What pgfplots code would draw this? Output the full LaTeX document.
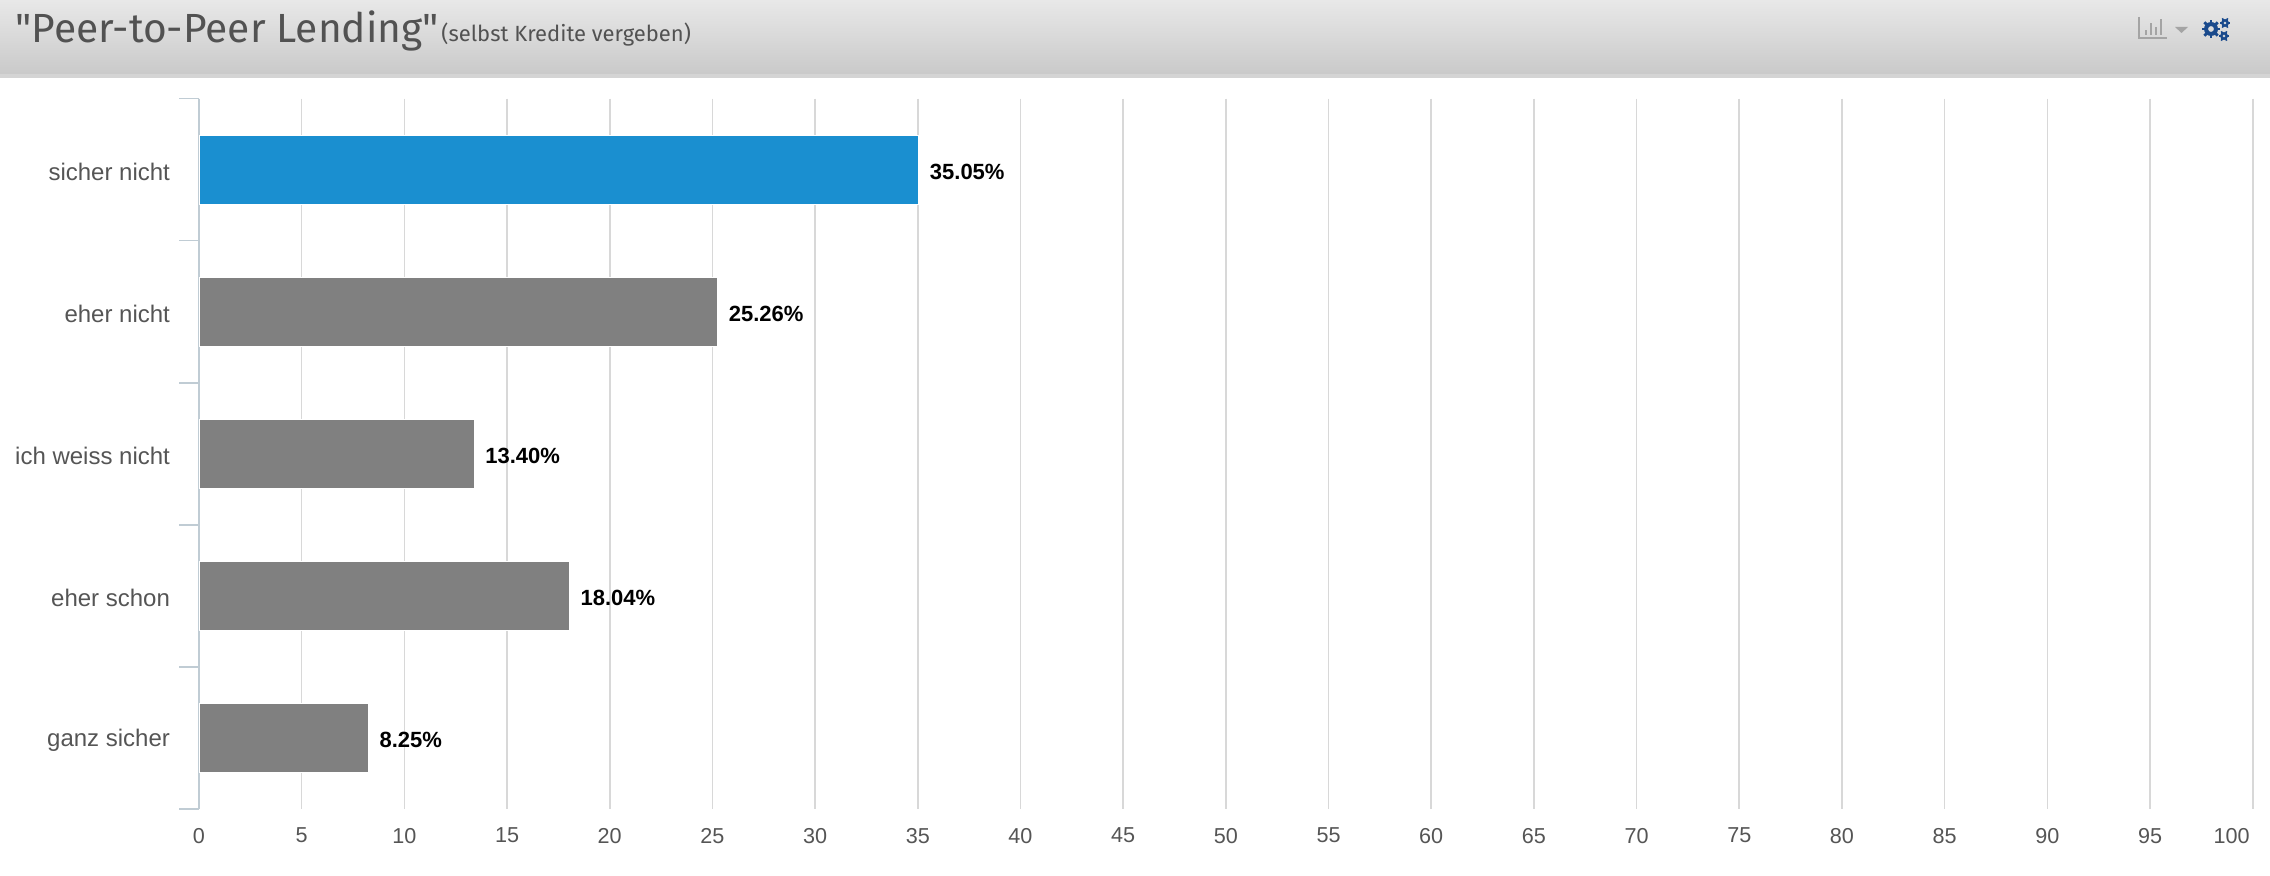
\documentclass[border=0pt]{standalone}
\usepackage{pgfplots}
\pgfplotsset{compat=1.18}
\usepackage{fontspec}
\setmainfont{Liberation Sans}
\newfontfamily\titlefont{Fira Sans}
\definecolor{barblue}{HTML}{1A8FD0}
\definecolor{bargray}{HTML}{808080}
\definecolor{labgray}{HTML}{555555}
\definecolor{gridgray}{HTML}{D8D8D8}
\definecolor{axisline}{HTML}{C0CCD4}
\definecolor{iconblue}{HTML}{1A4A8C}
\definecolor{icongray}{HTML}{A4A4A4}
% gear icon: centre x, centre y, outer radius, hole radius, teeth
\newcommand{\gear}[5]{%
  \fill[iconblue,even odd rule] (#1,#2) circle[radius=#3] (#1,#2) circle[radius=#4];
  \pgfmathsetmacro{\gstep}{360/#5}
  \foreach \ga in {1,...,#5}
    \draw[iconblue,line width=#3*0.2pt] ({#1+#3*0.85*cos(\ga*\gstep)},{#2+#3*0.85*sin(\ga*\gstep)})
      -- ({#1+#3*1.35*cos(\ga*\gstep)},{#2+#3*1.35*sin(\ga*\gstep)});
}
\begin{document}
\begin{tikzpicture}
  \path[use as bounding box] (0,0) rectangle (1135pt,-438pt);
  % header band, coordinates in reference pixels
  \begin{scope}[x=0.5pt,y=-0.5pt]
    \shade[top color=black!9,bottom color=black!21,draw=none] (0,0) rectangle (2270,74);
    \fill[black!17] (0,74) rectangle (2270,78);
    \node[anchor=base west,inner sep=0pt,text=black!68] at (15,43)
      {\titlefont\fontsize{20.35}{24}\selectfont "Peer-to-Peer Lending"};
    \node[anchor=base west,inner sep=0pt,text=black!68] at (441,42)
      {\titlefont\fontsize{11}{13}\selectfont (selbst Kredite vergeben)};
    % chart icon
    \draw[icongray,line width=0.8pt] (2139,17) -- (2139,38) -- (2167,38);
    \foreach \ix/\itop in {2146/30,2151/23,2156/27,2161/19}
      \draw[icongray,line width=1.4pt] (\ix,35) -- (\ix,\itop);
    \fill[icongray] (2175,27) -- (2188,27) -- (2181.5,33) -- cycle;
    % gears
    \gear{2211}{29}{7}{3}{8}
    \gear{2225}{23}{4}{1.6}{6}
    \gear{2224}{36}{4}{1.6}{6}
  \end{scope}
  \begin{axis}[
    at={(99.5pt,-404.5pt)},
    anchor=south west,
    scale only axis,
    width=1026.85pt,
    height=355.25pt,
    xmin=0, xmax=100,
    ymin=-0.5, ymax=4.5,
    y dir=reverse,
    xbar,
    bar shift=0pt,
    bar width=34.5pt,
    axis y line*=left,
    axis x line*=bottom,
    x axis line style={draw=none},
    y axis line style={draw=axisline,line width=0.8pt,-},
    xtick={0,5,...,95},
    extra x ticks={100},
    extra x tick labels={100},
    extra x tick style={grid=major,xticklabel style={anchor=north east,xshift=2pt}},
    xmajorgrids,
    grid style={gridgray,line width=0.8pt},
    ytick={0,1,2,3,4},
    yticklabels={sicher nicht,eher nicht,ich weiss nicht,eher schon,ganz sicher},
    minor ytick={-0.5,0.5,1.5,2.5,3.5,4.5},
    major tick length=0pt,
    minor tick length=9.75pt,
    tick align=outside,
    minor tick style={axisline,line width=0.8pt},
    xticklabel style={font=\fontsize{10.8}{14}\selectfont,text=labgray,yshift=-6pt},
    yticklabel style={font=\fontsize{12}{14}\selectfont,text=labgray,xshift=-11pt,yshift=-1.2pt},
    /pgf/number format/assume math mode=true,
    point meta=x,
    nodes near coords={\pgfmathprintnumber[fixed,fixed zerofill,precision=2]{\pgfplotspointmeta}\%},
    every node near coord/.append style={font=\bfseries\fontsize{11}{13}\selectfont,text=black,inner sep=0pt,anchor=west,xshift=5.3pt,yshift=-1pt},
  ]
  \addplot[fill=barblue,draw=white,line width=0.5pt] coordinates {(35.05,0)};
  \addplot[fill=bargray,draw=white,line width=0.5pt] coordinates {(25.26,1)(13.40,2)(18.04,3)(8.25,4)};
  \end{axis}
\end{tikzpicture}
\end{document}
